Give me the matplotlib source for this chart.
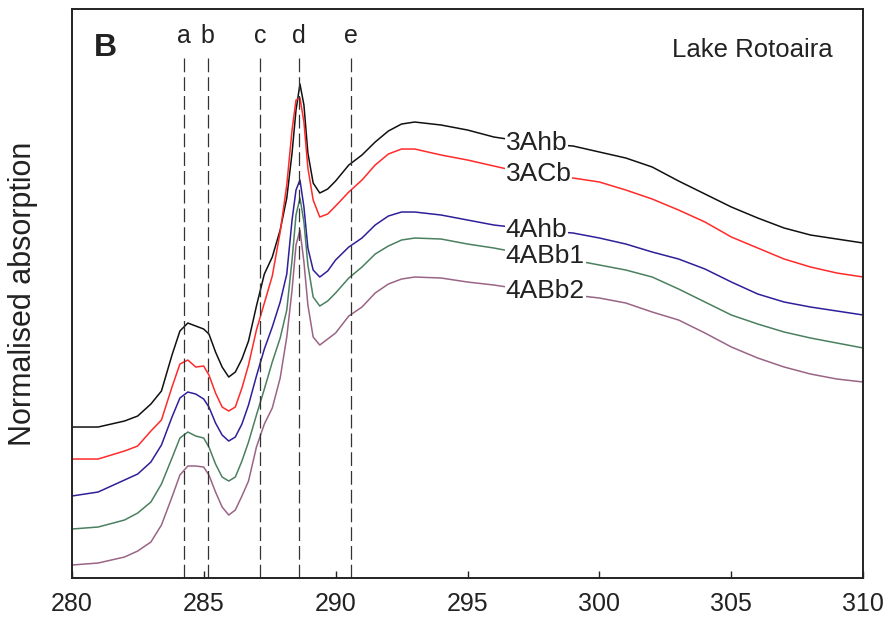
import numpy as np
import matplotlib
matplotlib.use("Agg")
import matplotlib.pyplot as plt

plt.rcParams['font.family'] = ['Liberation Sans', 'DejaVu Sans']

# energia (eV) - malla comun para todas las curvas
energia = [280, 281, 282, 282.5, 283, 283.4, 283.8, 284.1, 284.4, 284.7,
           285, 285.2, 285.45, 285.7, 285.95, 286.2, 286.45, 286.7, 287, 287.3,
           287.6, 287.9, 288.15, 288.35, 288.5, 288.65, 288.8, 288.95, 289.15,
           289.4, 289.7, 290, 290.5, 291, 291.5, 292, 292.5, 293, 294, 295,
           296, 297, 298, 299, 300, 301, 302, 303, 304, 305, 306, 307, 308,
           309, 310]

abs_3Ahb = [1.51, 1.51, 1.57, 1.62, 1.74, 1.87, 2.23, 2.47, 2.55, 2.52,
            2.49, 2.44, 2.26, 2.11, 2.01, 2.06, 2.19, 2.37, 2.72, 3.04,
            3.21, 3.48, 3.80, 4.25, 4.68, 4.94, 4.73, 4.25, 3.95,
            3.85, 3.89, 3.97, 4.13, 4.23, 4.36, 4.47, 4.54, 4.56, 4.53, 4.48,
            4.41, 4.37, 4.34, 4.32, 4.26, 4.20, 4.11, 3.97, 3.84, 3.71, 3.60,
            3.50, 3.43, 3.39, 3.35]

abs_3ACb = [1.19, 1.19, 1.27, 1.32, 1.47, 1.58, 1.91, 2.14, 2.18, 2.11,
            2.12, 2.03, 1.85, 1.71, 1.67, 1.71, 1.90, 2.13, 2.48, 2.75,
            3.02, 3.46, 3.93, 4.48, 4.78, 4.80, 4.56, 4.10, 3.78,
            3.61, 3.64, 3.72, 3.86, 3.98, 4.13, 4.24, 4.29, 4.29, 4.23, 4.18,
            4.12, 4.06, 4.02, 4.00, 3.96, 3.88, 3.79, 3.68, 3.56, 3.41, 3.30,
            3.19, 3.11, 3.05, 3.01]

abs_4Ahb = [0.82, 0.86, 0.98, 1.04, 1.16, 1.33, 1.61, 1.80, 1.86, 1.84,
            1.79, 1.71, 1.55, 1.43, 1.37, 1.41, 1.54, 1.73, 2.02, 2.29,
            2.51, 2.76, 3.04, 3.58, 3.88, 3.98, 3.71, 3.30, 3.08,
            3.01, 3.07, 3.18, 3.31, 3.40, 3.53, 3.62, 3.66, 3.66, 3.63, 3.58,
            3.53, 3.50, 3.47, 3.45, 3.40, 3.34, 3.26, 3.19, 3.09, 2.96, 2.84,
            2.76, 2.71, 2.67, 2.63]

abs_4ABb1 = [0.49, 0.51, 0.58, 0.65, 0.76, 0.94, 1.20, 1.40, 1.46, 1.42,
             1.40, 1.31, 1.14, 1.01, 0.97, 1.01, 1.17, 1.36, 1.63, 1.89,
             2.16, 2.40, 2.68, 3.18, 3.63, 3.80, 3.56, 3.13, 2.81,
             2.72, 2.77, 2.85, 3.00, 3.11, 3.24, 3.32, 3.38, 3.40, 3.39, 3.34,
             3.30, 3.25, 3.20, 3.18, 3.13, 3.08, 3.01, 2.89, 2.76, 2.63, 2.54,
             2.46, 2.40, 2.35, 2.30]

abs_4ABb2 = [0.13, 0.15, 0.21, 0.27, 0.36, 0.53, 0.81, 1.03, 1.12, 1.12,
             1.11, 1.03, 0.86, 0.71, 0.63, 0.68, 0.82, 0.97, 1.31, 1.54,
             1.70, 2.00, 2.41, 2.88, 3.33, 3.48, 3.16, 2.73, 2.41,
             2.33, 2.39, 2.45, 2.62, 2.71, 2.85, 2.94, 2.99, 3.01, 3.00, 2.96,
             2.93, 2.89, 2.86, 2.83, 2.80, 2.75, 2.66, 2.58, 2.45, 2.31, 2.20,
             2.11, 2.04, 1.99, 1.96]

muestras = ["3Ahb", "3ACb", "4Ahb", "4ABb1", "4ABb2"]
series = [abs_3Ahb, abs_3ACb, abs_4Ahb, abs_4ABb1, abs_4ABb2]
colores = ["#111111", "#ff2a2a", "#2e1f9a", "#4a8060", "#9a6585"]

# posiciones de los picos (lineas discontinuas)
picos = [284.25, 285.16, 287.13, 288.62, 290.57]
letras = ["a", "b", "c", "d", "e"]

fig = plt.figure(figsize=(8.9, 6.22), dpi=100)
ax = fig.add_axes([0.0806, 0.0707, 0.8894, 0.9148])

for nombre, y, c in zip(muestras, series, colores):
    ax.plot(energia, y, color=c, lw=1.1, solid_joinstyle="round")
    # etiqueta sobre la curva, con fondo blanco que corta la linea
    yl = np.interp(297.6, energia, y)
    ax.text(296.45, yl, nombre, fontsize=19, ha="left", va="center",
            color="#222222",
            bbox=dict(facecolor="white", edgecolor="none", pad=0.5))

ax.vlines(picos, 0, 5.23, colors="#333333", linestyles=(0, (11, 4)), lw=0.9)
for xp, letra in zip(picos, letras):
    ax.text(xp, 5.42, letra, fontsize=18, ha="center", va="center",
            color="#222222")

ax.text(281.26, 5.30, "B", fontsize=23, fontweight="bold", ha="center",
        va="center", color="#222222")
ax.text(308.85, 5.28, "Lake Rotoaira", fontsize=18.5, ha="right",
        va="center", color="#222222")

ax.set_xlim(280, 310)
ax.set_ylim(0, 5.69)
ax.set_xticks(np.arange(280, 311, 5))
ax.set_yticks([])
ax.tick_params(axis="x", direction="in", length=5, width=1, labelsize=18,
               pad=10, colors="#222222")
ax.set_ylabel("Normalised absorption", fontsize=22, labelpad=24,
              color="#222222")
for s in ax.spines.values():
    s.set_linewidth(1.4)
    s.set_color("#222222")

fig.savefig("out.png", dpi=100)
